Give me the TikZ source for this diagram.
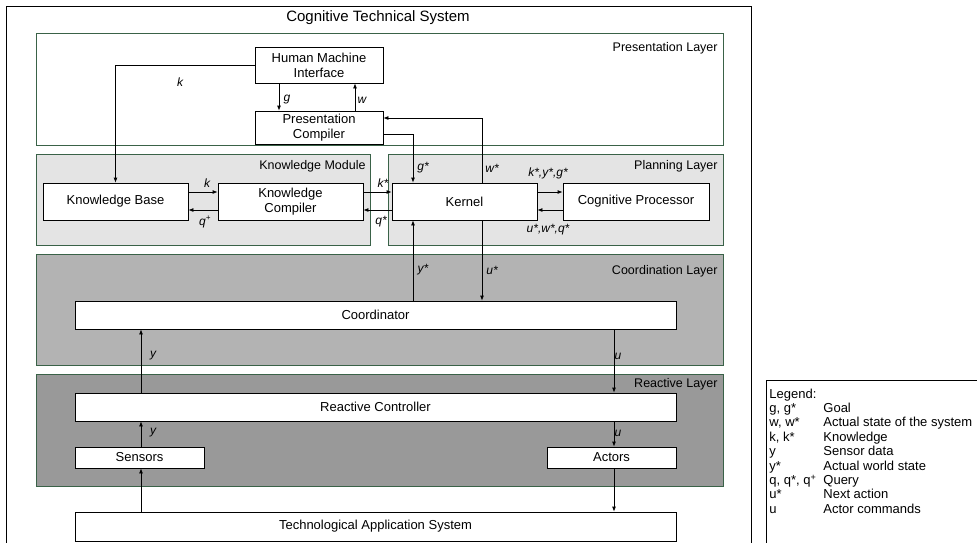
\documentclass[tikz,border=0pt]{standalone}
\usepackage{fontspec}
\setmainfont{Liberation Sans}
\usetikzlibrary{arrows.meta}

\definecolor{layerline}{RGB}{58,98,72}
\definecolor{planfill}{RGB}{228,228,228}
\definecolor{coordfill}{RGB}{179,179,179}
\definecolor{reactfill}{RGB}{153,153,153}

\begin{document}
\begin{tikzpicture}[x=1pt,y=-1pt,line width=0.8pt,
  box/.style={draw,fill=white,inner sep=0pt,align=center,font=\fontsize{13}{15}\selectfont},
  layer/.style={draw=layerline},
  lname/.style={anchor=east,inner sep=0pt,font=\fontsize{12.5}{14}\selectfont},
  lbl/.style={inner sep=0pt,font=\fontsize{12}{14}\selectfont\itshape},
  legtxt/.style={anchor=base west,inner sep=0pt,font=\fontsize{13}{15}\selectfont},
  arr/.style={-{Latex[length=5pt,width=4pt]}}]
\clip (0,0) rectangle (977,542);
\useasboundingbox (0,0) rectangle (977,542);

% frames
\draw (6,560) -- (6,6) -- (751,6) -- (751,560);
\node[font=\fontsize{15}{17}\selectfont] (title) at (378,18) {Cognitive Technical System};
\draw (766,560) |- (990,380);

% layers
\draw[layer] (36,33) rectangle (723,145);
\draw[layer,fill=planfill] (36,154) rectangle (370,245);
\draw[layer,fill=planfill] (388,154) rectangle (723,245);
\draw[layer,fill=coordfill] (36,254) rectangle (723,365);
\draw[layer,fill=reactfill] (36,374) rectangle (723,486);
\node[lname] (presname) at (718,48) {Presentation Layer};
\node[lname] (kmname) at (366,166) {Knowledge Module};
\node[lname] (planname) at (718,166) {Planning Layer};
\node[lname] (coordname) at (718,271) {Coordination Layer};
\node[lname] (reactname) at (718,384) {Reactive Layer};

% boxes
\node[box,minimum width=128pt,minimum height=36pt] (hmi) at (319,65) {Human Machine\\Interface};
\node[box,minimum width=128pt,minimum height=33pt] (pc) at (319,127.5) {Presentation\\Compiler};
\node[box,minimum width=145pt,minimum height=37pt] (kb) at (115.5,201.5) {Knowledge Base};
\node[box,minimum width=145pt,minimum height=37pt] (kc) at (290.5,201.5) {Knowledge\\Compiler};
\node[box,minimum width=145pt,minimum height=37pt] (kernel) at (464.5,201.5) {Kernel};
\node[box,minimum width=146pt,minimum height=37pt] (cp) at (636,201.5) {Cognitive Processor};
\node[box,minimum width=601pt,minimum height=28pt] (coord) at (375.5,315) {Coordinator};
\node[box,minimum width=601pt,minimum height=28pt] (rc) at (375.5,407) {Reactive Controller};
\node[box,minimum width=129pt,minimum height=21pt] (sensors) at (139.5,457.5) {Sensors};
\node[box,minimum width=129pt,minimum height=21pt] (actors) at (611.5,457.5) {Actors};
\node[box,minimum width=601pt,minimum height=29pt] (tas) at (375.5,526.5) {Technological Application System};

% helper columns and rows
\coordinate (xg) at (279,0);
\coordinate (xw) at (355,0);
\coordinate (xgs) at (413,0);
\coordinate (xws) at (482,0);
\coordinate (xy) at (141,0);
\coordinate (xu) at (614,0);
\coordinate (yws) at (0,118);
\coordinate (ygs) at (0,134);
\coordinate (yhi) at (0,192);
\coordinate (ylo) at (0,210);

% connectors
\draw[arr] (hmi.west) -| (kb.north);
\draw[arr] (hmi.south -| xg) -- (pc.north -| xg);
\draw[arr] (pc.north -| xw) -- (hmi.south -| xw);
\draw[arr] (kernel.north -| xws) |- (pc.east |- yws);
\draw[arr] (pc.east |- ygs) -| (kernel.north -| xgs);
\draw[arr] (kb.east |- yhi) -- (kc.west |- yhi);
\draw[arr] (kc.west |- ylo) -- (kb.east |- ylo);
\draw[arr] (kc.east |- yhi) -- (kernel.west |- yhi);
\draw[arr] (kernel.west |- ylo) -- (kc.east |- ylo);
\draw[arr] (kernel.east |- yhi) -- (cp.west |- yhi);
\draw[arr] (cp.west |- ylo) -- (kernel.east |- ylo);
\draw[arr] (coord.north -| xgs) -- (kernel.south -| xgs);
\draw[arr] (kernel.south -| xws) -- (coord.north -| xws);
\draw[arr] (rc.north -| xy) -- (coord.south -| xy);
\draw[arr] (coord.south -| xu) -- (rc.north -| xu);
\draw[arr] (sensors.north -| xy) -- (rc.south -| xy);
\draw[arr] (rc.south -| xu) -- (actors.north -| xu);
\draw[arr] (tas.north -| xy) -- (sensors.south -| xy);
\draw[arr] (actors.south -| xu) -- (tas.north -| xu);

% connector labels
\node[lbl] (lk) at (180,82) {k};
\node[lbl] (lg) at (287,100) {g};
\node[lbl] (lw) at (362,100) {w};
\node[lbl] (lgs) at (423,168) {g*};
\node[lbl] (lws) at (492,168) {w*};
\node[lbl] (lkb) at (207,183) {k};
\node[lbl] (lqp) at (205,222) {q\textsuperscript{+}};
\node[lbl] (lks) at (383,183) {k*};
\node[lbl] (lqs) at (381,222) {q*};
\node[lbl] (lto) at (548,173) {k*,y*,g*};
\node[lbl] (lfrom) at (548,230) {u*,w*,q*};
\node[lbl] (lys) at (423,270) {y*};
\node[lbl] (lus) at (492,270) {u*};
\node[lbl] (ly) at (153,356) {y};
\node[lbl] (lu) at (618,356) {u};
\node[lbl] (ly2) at (153,433) {y};
\node[lbl] (lu2) at (618,433) {u};

% legend
\node[legtxt] (legend) at (769,398) {Legend:};
\foreach \sym/\txt [count=\i] in {{g, g*}/Goal,{w, w*}/Actual state of the system,
    {k, k*}/Knowledge,y/Sensor data,y*/Actual world state,
    {q, q*, q\textsuperscript{+}}/Query,u*/Next action,u/Actor commands}{
  \node[legtxt] (sym\i) at (769,398+14.4*\i) {\sym};
  \node[legtxt] (txt\i) at (823,398+14.4*\i) {\txt};
}
\end{tikzpicture}
\end{document}
